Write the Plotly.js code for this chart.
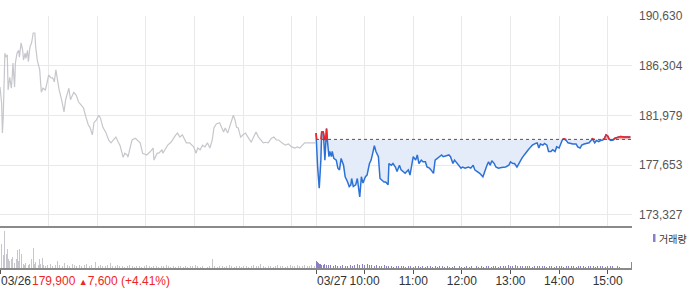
<!DOCTYPE html>
<html><head><meta charset="utf-8">
<script src="https://cdn.plot.ly/plotly-3.0.1.min.js"></script>
<style>html,body{margin:0;padding:0;background:#fff;}#chart{width:700px;height:289px;}</style>
</head><body><div id="chart"></div>
<script>
// minutes since 09:00 of each session; day 2 is drawn after day 1 (390 minute session)
const sessionLength = 390;

const day1Min = [0,2,3,4,6,7,9,10,12,14,
15,16,18,19,21,23,24,26,28,29,
31,32,34,35,37,39,41,43,44,46,
49,51,53,56,58,60,63,65,67,69,
71,73,76,79,81,83,85,87,89,91,
94,97,100,103,106,109,111,114,116,119,
122,124,127,131,134,137,140,143,146,148,
152,154,157,158,160,163,167,169,173,176,
179,181,185,189,190,194,196,200,201,205,
207,211,214,217,219,222,225,228,230,234,
239,242,244,247,250,253,256,259,262,264,
267,271,274,276,278,281,283,285,288,290,
292,294,297,300,303,306,310,313,316,319,
322,325,328,331,335,338,341,344,348,352,
356,360,364,367,370,373,376,380,385,389];

const day1Price = [184450,183050,180450,181850,187400,187050,187250,184200,185300,184350,
185300,186550,184450,186550,187400,187650,187050,188300,187650,186800,
187400,186950,187650,186650,187950,188300,189150,189150,187950,186800,
185950,184000,184350,184200,184800,185500,185250,185250,184900,185950,
185050,184200,183350,182300,183350,183950,184350,183350,183750,184000,
183750,183150,182900,182650,181850,181150,180950,180300,181350,181600,
182000,181750,180950,180450,179850,179600,179850,180100,179650,179400,
178350,178700,178550,178350,179000,179850,180000,179850,179600,178700,
178650,178550,178800,179150,178100,178700,178700,179000,178700,179250,
179400,179650,180000,180300,180450,180100,180300,179850,179600,179600,
179250,178700,179150,179000,179400,179250,179600,179150,179850,180900,
181250,181350,180950,180550,180900,180450,180900,181350,182000,181600,
180950,180900,180100,180300,180450,180100,179650,180100,180550,180100,
179850,179600,179650,179600,180000,180100,179850,179850,179600,179400,
179500,179250,179150,179250,179150,179400,179600,179600,179600,179600];

const day2Min = [0,1,2,4,6,7,9,11,12,13,
14,16,17,19,20,22,25,27,29,31,
34,36,39,41,43,44,46,49,51,53,
54,56,58,61,63,66,68,70,72,74,
77,79,81,84,86,89,90,93,95,98,
100,103,105,108,110,112,114,116,118,120,
123,125,127,130,132,135,137,140,142,145,
147,150,152,155,157,160,164,166,169,171,
174,176,179,181,184,188,191,194,196,199,
202,206,208,211,213,215,217,220,222,225,
229,234,238,240,243,245,248,251,254,257,
259,262,265,267,271,273,275,277,280,282,
285,287,290,292,295,297,300,302,304,306,
309,311,314,317,321,323,326,328,331,334,
337,340,341,344,346,349,351,354,356,358,
360,362,364,367,369,373,376,380,384,388];

const day2Price = [180450,177800,177500,175650,178100,180550,180550,178100,179250,180850,
179850,178400,178850,178400,178850,178250,178100,177400,177250,178250,
177650,176650,176200,175800,175950,176500,175800,175950,176500,175500,
174900,176650,176100,176650,176800,177800,178100,178700,179350,178850,
178400,176500,176350,176200,176200,175950,177800,177650,177800,177500,
177100,177650,177250,177100,176950,177100,177250,176800,177650,178400,
178100,178550,177800,178100,177950,177950,177500,177400,177250,176950,
178100,178250,178400,178550,178400,178450,178550,178400,177800,178100,
177800,177650,177400,177500,177400,177500,177400,177650,177250,177100,
176950,176650,177100,177650,177950,177650,178050,177800,177500,177400,
177450,177500,177650,177950,177800,177800,177500,177950,178250,178550,
178700,179000,179250,179400,179550,179600,179150,179500,179400,179550,
179400,178850,178850,179000,178850,179250,179150,179600,179850,179950,
179800,179600,179550,179500,179500,179250,179150,179400,179500,179550,
179600,179850,179950,179600,179800,179700,179800,179850,180000,180300,
180200,179900,179800,179850,180000,180100,180150,180100,180100,180100];

const refPrice = 179900;

// volume, thousand shares
const vol1Min = [0,2,4,6,8,9,11,12,14,15,16,18,20,21,23,24,26,27,29,30,32,35,37,39,41,42,44,47,49,50,52,54,56,
59,62,65,68,71,74,77,80,83,86,89,92,95,98,101,104,107,110,113,116,
118,
121,124,127,130,133,136,139,142,145,148,151,154,157,160,163,166,169,172,175,178,181,184,187,190,193,196,199,202,205,208,211,214,217,220,223,226,229,232,235,238,241,244,247,250,253,256,259,
262,
265,268,271,274,277,280,283,286,289,292,295,298,301,304,307,310,313,316,319,322,325,328,331,334,337,340,343,346,349,352,355,358,361,364,367,370,373,376,379,382,385,388];
const vol1K = [27,24,13,37,14,19,9,7,9,11,6,5,9,18,7,19,6,14,4,3,5,3,4,9,20,4,6,3,9,4,10,3,2,
3,4,2,3,7,3,2,5,3,2,4,3,2,3,2,3,4,2,3,2,
6,
2,3,2,2,3,5,2,2,3,2, 2,1,2,3,2,1,2,2,1,2, 3,2,1,2,2,1,2,2,3,2, 1,2,1,2,2,1,2,1,2,2, 3,2,1,2,2,1,2,
9,
2,1,2,2,1,2,3,2,1,2, 2,1,2,2,1,2,3,2,2,4, 2,1,2,2,1,2,3,2,2,1, 2,3,2,2,3,2,2,3,2,2, 3,2];

const vol2Min = [0,1,2,3,4,5,7,9,11,13,15,
18,21,24,27,30,33,36,39,42,45,
48,51,54,57,60,63,66,69,72,75,
78,81,84,87,90,93,96,99,102,105,
108,111,114,117,120,123,126,129,132,135,
138,141,144,147,150,153,156,159,162,165,
168,171,174,177,180,183,186,189,192,195,
198,201,204,207,210,213,216,219,222,225,
228,231,234,237,240,243,246,249,252,255,
258,261,264,267,270,273,276,279,282,285,
288,291,294,297,300,303,306,309,312,315,
318,321,324,327,330,333,336,339,342,345,
348,351,354,357,360,363,366,369,372,375,
389];
const vol2K = [10,7,6,5,4,4,3,3,4,3,3,
3,2,3,2,2,3,2,2,3,2,
3,4,3,4,3,4,3,3,2,3,
2,2,3,2,2,2,1,2,2,2,
2,1,2,2,1,2,2,1,2,1,
2,2,1,2,1,2,2,1,2,1,
1,2,1,2,1,1,2,1,2,1,
2,1,2,1,2,2,1,2,2,1,
2,2,2,3,2,2,3,2,2,2,
2,2,2,1,2,2,2,2,2,1,
2,2,1,2,2,2,1,2,2,2,
2,1,2,2,2,1,2,2,2,1,
2,2,2,1,2,2,2,2,2,1,
6];

const yTickVals = [173327,177653,181979,186304,190630];
const yTickText = ['173,327','177,653','181,979','186,304','190,630'];
const hourTicks = [450,510,570,630,690,750];
const hourLabels = ['10:00','11:00','12:00','13:00','14:00','15:00'];
const gridTicks = [60,120,180,240,300,360,390,450,510,570,630,690,750];
const dateLabels = ['03/26','03/27'];
const lastPriceText = '179,900';
const changeText = '7,600';
const changePctText = '(+4.41%)';
const volumeLabel = '거래량';

// ---- derived
const x2 = day2Min.map(m => m + sessionLength);
const v2x = vol2Min.map(m => m + sessionLength);
const baseLine = x2.map(() => refPrice);
const lowClip = day2Price.map(p => Math.min(p, refPrice));
const highClip = day2Price.map(p => Math.max(p, refPrice));
const redLine = day2Price.map((p, i) => {
  const up = p > refPrice || (i > 0 && day2Price[i-1] > refPrice) || (i < day2Price.length-1 && day2Price[i+1] > refPrice);
  return up ? Math.max(p, refPrice) : null;
});

const BLUE = '#2c72d6', RED = '#f02525', GRAY = '#c6c7cc', PURPLE = '#8e7ec6';
const FONT = 'Liberation Sans, Arial, sans-serif';
const LABEL_SHIFT = -13;

const traces = [
  {x: day1Min, y: day1Price, type: 'scatter', mode: 'lines', line: {color: GRAY, width: 1.2}, xaxis: 'x', yaxis: 'y'},
  {x: x2, y: baseLine, type: 'scatter', mode: 'lines', line: {width: 0, color: 'rgba(0,0,0,0)'}, xaxis: 'x', yaxis: 'y'},
  {x: x2, y: lowClip, type: 'scatter', mode: 'lines', fill: 'tonexty', fillcolor: '#e4ecf9', line: {width: 0, color: 'rgba(0,0,0,0)'}, xaxis: 'x', yaxis: 'y'},
  {x: x2, y: baseLine, type: 'scatter', mode: 'lines', line: {width: 0, color: 'rgba(0,0,0,0)'}, xaxis: 'x', yaxis: 'y'},
  {x: x2, y: highClip, type: 'scatter', mode: 'lines', fill: 'tonexty', fillcolor: '#f6b4b4', line: {width: 0, color: 'rgba(0,0,0,0)'}, xaxis: 'x', yaxis: 'y'},
  {x: x2, y: day2Price, type: 'scatter', mode: 'lines', line: {color: BLUE, width: 1.5}, xaxis: 'x', yaxis: 'y'},
  {x: x2, y: redLine, type: 'scatter', mode: 'lines', connectgaps: false, line: {color: RED, width: 1.5}, xaxis: 'x', yaxis: 'y'},
  {x: vol1Min, y: vol1K, type: 'bar', width: 1.2, marker: {color: GRAY, line: {width: 0}}, xaxis: 'x2', yaxis: 'y2'},
  {x: v2x, y: vol2K, type: 'bar', width: 1.2, marker: {color: PURPLE, line: {width: 0}}, xaxis: 'x2', yaxis: 'y2'}
];

const layout = {
  width: 700, height: 289,
  margin: {l: 0, r: 68, t: 16, b: 21, pad: 0},
  paper_bgcolor: '#fff', plot_bgcolor: '#fff',
  showlegend: false, hovermode: false,
  font: {family: FONT, size: 12, color: '#333'},
  xaxis: {
    domain: [0, 1], range: [0, 780], anchor: 'y',
    tickmode: 'array', tickvals: gridTicks, showticklabels: false, ticks: '',
    showgrid: true, gridcolor: '#e9e9e9', gridwidth: 1,
    showline: true, linecolor: '#8a8a8a', linewidth: 2, zeroline: false, fixedrange: true
  },
  yaxis: {
    domain: [42/252, 1], range: [172370, 190630], anchor: 'x', side: 'right',
    tickmode: 'array', tickvals: yTickVals, ticktext: yTickText, ticks: '',
    ticklabelstandoff: 6,
    tickfont: {family: FONT, size: 12, color: '#555'},
    showgrid: true, gridcolor: '#e9e9e9', gridwidth: 1, zeroline: false, showline: false
  },
  xaxis2: {
    domain: [0, 1], range: [0, 780], anchor: 'y2',
    tickmode: 'array', tickvals: [0, sessionLength].concat(hourTicks), ticktext: ['', ''].concat(hourLabels),
    ticks: 'outside', ticklen: 4, tickcolor: '#555', tickwidth: 1,
    ticklabelstandoff: -3,
    tickfont: {family: FONT, size: 12, color: '#333'},
    showgrid: false, showline: true, linecolor: '#8a8a8a', linewidth: 2, zeroline: false
  },
  yaxis2: {
    domain: [0, 42/252], range: [0, 42], anchor: 'x2',
    showticklabels: false, ticks: '', showgrid: false, zeroline: false, showline: false
  },
  bargap: 0,
  shapes: [
    {type: 'line', xref: 'x', yref: 'y', x0: sessionLength, x1: 780, y0: refPrice, y1: refPrice,
     line: {color: '#555', width: 1, dash: 'dot'}},
    {type: 'rect', xref: 'paper', yref: 'paper', x0: 653/632, x1: 655.5/632, y0: (268-242)/252, y1: (268-234)/252,
     fillcolor: PURPLE, line: {width: 0}}
  ],
  annotations: [
    {xref: 'paper', yref: 'paper', x: 0, y: 0, xanchor: 'left', yanchor: 'middle', yshift: LABEL_SHIFT, xshift: -1,
     text: dateLabels[0], showarrow: false, font: {family: FONT, size: 12, color: '#333'}},
    {xref: 'x2', yref: 'paper', x: sessionLength, y: 0, xanchor: 'left', yanchor: 'middle', yshift: LABEL_SHIFT, xshift: -1,
     text: dateLabels[1], showarrow: false, font: {family: FONT, size: 12, color: '#333'}},
    {xref: 'paper', yref: 'paper', x: 30/632, y: 0, xanchor: 'left', yanchor: 'middle', yshift: LABEL_SHIFT,
     text: lastPriceText + ' <span style="font-size:9px">▲</span>' + changeText + ' ' + changePctText,
     showarrow: false, font: {family: FONT, size: 12, color: RED}},
    {xref: 'paper', yref: 'paper', x: 657/632, y: (268-238)/252, xanchor: 'left', yanchor: 'middle',
     text: volumeLabel, showarrow: false, font: {family: 'Noto Sans CJK KR, sans-serif', size: 10, color: '#333'}}
  ]
};

Plotly.newPlot('chart', traces, layout, {displayModeBar: false, staticPlot: true});
</script>
</body></html>
